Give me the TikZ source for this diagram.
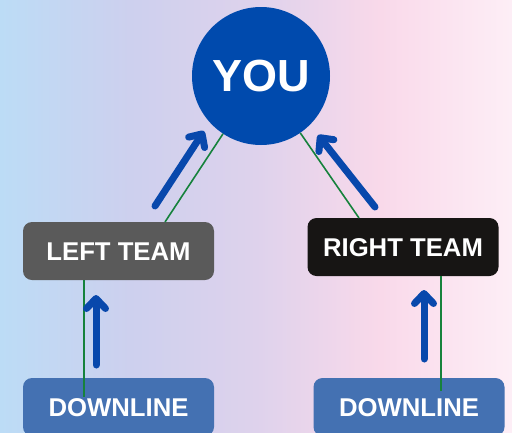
\documentclass[tikz,border=0pt]{standalone}
\usepackage{fontspec}
\setmainfont{Liberation Sans}
\usetikzlibrary{arrows.meta}
\definecolor{youblue}{RGB}{0,74,173}
\definecolor{arrowblue}{RGB}{8,72,172}
\definecolor{leftgray}{RGB}{90,90,90}
\definecolor{rightblack}{RGB}{23,21,20}
\definecolor{downblue}{RGB}{68,113,178}
\definecolor{linkgreen}{RGB}{22,130,60}
\definecolor{bgA}{RGB}{188,220,246}
\definecolor{bgB}{RGB}{205,208,238}
\definecolor{bgC}{RGB}{222,210,236}
\definecolor{bgD}{RGB}{249,217,234}
\definecolor{bgE}{RGB}{253,238,246}
\pgfdeclarehorizontalshading{backshade}{100bp}{color(0bp)=(bgA); color(25bp)=(bgA); color(37.7bp)=(bgB); color(50bp)=(bgC); color(62.1bp)=(bgD); color(75bp)=(bgE); color(100bp)=(bgE)}
\begin{document}
\begin{tikzpicture}[x=1pt, y=-1pt,
  box/.style={rounded corners=9pt, minimum width=191pt, minimum height=58pt, text=white, font=\bfseries\fontsize{25.7}{25.7}\selectfont, text height=18pt, text depth=0pt, inner sep=0pt},
  link/.style={linkgreen, line width=1.6pt},
  up/.style={arrowblue, line width=7pt, line cap=round, -{Straight Barb[length=10pt, width=19pt, round]}}]
\useasboundingbox (0,0) rectangle (512,432);
\shade[shading=backshade] (0,0) rectangle (512,432);
% nodes
\node[circle, fill=youblue, minimum size=138pt, inner sep=0pt, text=white, font=\bfseries\fontsize{45}{45}\selectfont] (you) at (261,76) {YOU};
\node[box, fill=leftgray] (left) at (118.5,251) {LEFT TEAM};
\node[box, fill=rightblack] (right) at (403,247) {RIGHT TEAM};
\node[box, fill=downblue] (ldown) at (118.5,407) {DOWNLINE};
\node[box, fill=downblue] (rdown) at (409,407) {DOWNLINE};
% green links
\coordinate (lt) at (165,222);
\coordinate (rt) at (359,218);
\coordinate (ld) at (84,397);
\coordinate (rd) at (441,391);
\draw[link] (you) -- (lt);
\draw[link] (you) -- (rt);
\draw[link] (left.south -| ld) -- (ld);
\draw[link] (right.south -| rd) -- (rd);
% blue arrows
\coordinate (la0) at (155,206);
\coordinate (la1) at (204,131);
\coordinate (ra0) at (375,207);
\coordinate (ra1) at (318,135);
\coordinate (lv0) at (96,365);
\coordinate (lv1) at (96,295);
\coordinate (rv0) at (424,359);
\coordinate (rv1) at (424,290);
\draw[up] (la0) -- (la1);
\draw[up] (ra0) -- (ra1);
\draw[up] (lv0) -- (lv1);
\draw[up] (rv0) -- (rv1);
\end{tikzpicture}
\end{document}
